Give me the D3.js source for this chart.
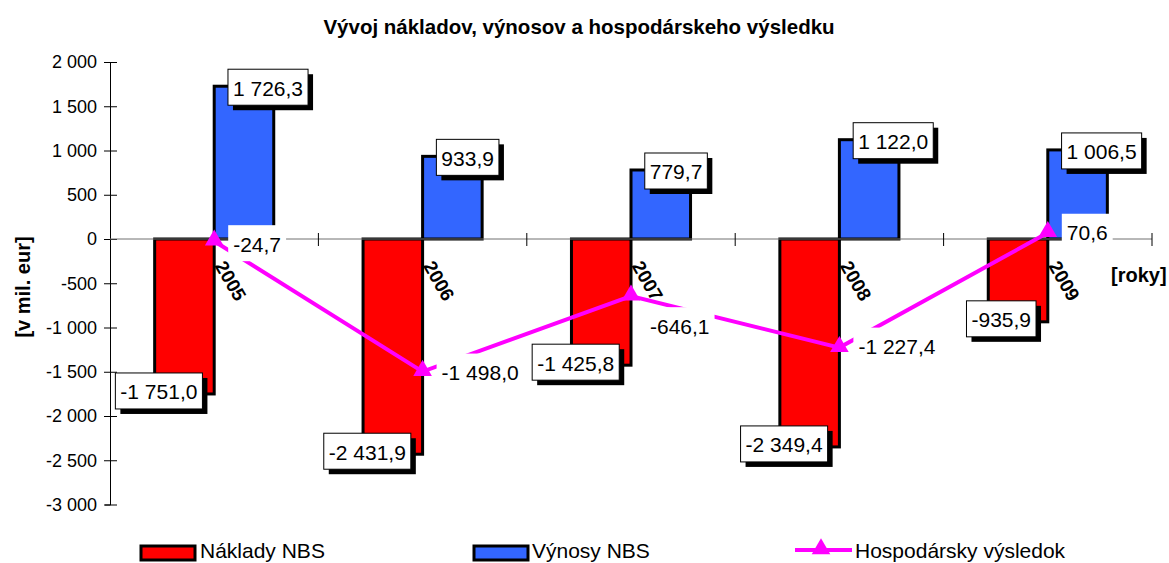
<!DOCTYPE html>
<html>
<head>
<meta charset="utf-8">
<script src="https://cdn.jsdelivr.net/npm/d3@7"></script>
<style>
  html, body { margin: 0; padding: 0; background: #fff; }
  svg { display: block; font-family: Arial, "Liberation Sans", sans-serif; }
</style>
</head>
<body>
<div id="app"></div>
<script>
// data
const years = ["2005", "2006", "2007", "2008", "2009"];
const naklady = [-1751.0, -2431.9, -1425.8, -2349.4, -935.9];
const vynosy = [1726.3, 933.9, 779.7, 1122.0, 1006.5];
const vysledok = [-24.7, -1498.0, -646.1, -1227.4, 70.6];
const yTicks = [2000, 1500, 1000, 500, 0, -500, -1000, -1500, -2000, -2500, -3000];

const seriesNames = ["Náklady NBS", "Výnosy NBS", "Hospodársky výsledok"];
const colors = { naklady: "#ff0000", vynosy: "#3366ff", vysledok: "#ff00ff" };

// manual nudges of the result labels (dy in px), one per year
const resultLabelDy = [2, 0, 29, -2, -1];

const W = 1169, H = 563;
const fmt = d3.formatLocale({ decimal: ",", thousands: " ", grouping: [3], minus: "-" });
const fmtVal = fmt.format(",.1f");
const fmtTick = fmt.format(",d");

const svg = d3.select("#app").append("svg")
  .attr("width", W)
  .attr("height", H);

const x0 = d3.scaleBand().domain(years).range([110, 1152]).padding(0);
const x1 = d3.scaleBand().domain(["naklady", "vynosy"])
  .range([0, x0.bandwidth()]).paddingInner(0).paddingOuter(0.75);
const y = d3.scaleLinear().domain([-3000, 2000]).range([504.5, 62]);

// title
svg.append("text")
  .attr("x", 579).attr("y", 34)
  .attr("text-anchor", "middle")
  .attr("font-size", 20.5).attr("font-weight", "bold")
  .text("Vývoj nákladov, výnosov a hospodárskeho výsledku");

// y axis
const yAxis = d3.axisLeft(y).tickValues(yTicks).tickFormat(fmtTick).tickSize(5).tickPadding(8);
const gy = svg.append("g").attr("transform", "translate(110,0)").call(yAxis);
gy.select(".domain").attr("stroke", "#000");
gy.selectAll(".tick line").attr("x2", 7).attr("x1", -6).attr("stroke", "#000");
gy.selectAll(".tick text").attr("font-size", 18).attr("font-family", "Arial, 'Liberation Sans', sans-serif").attr("fill", "#000");

svg.append("text")
  .attr("transform", "translate(30,287) rotate(-90)")
  .attr("text-anchor", "middle")
  .attr("font-size", 20).attr("font-weight", "bold")
  .text("[v mil. eur]");

// bars
const bars = svg.append("g");
years.forEach((yr, i) => {
  [["naklady", naklady[i]], ["vynosy", vynosy[i]]].forEach(([k, v]) => {
    bars.append("rect")
      .attr("x", x0(yr) + x1(k))
      .attr("y", Math.min(y(v), y(0)))
      .attr("width", x1.bandwidth())
      .attr("height", Math.abs(y(v) - y(0)))
      .attr("fill", colors[k])
      .attr("stroke", "#000")
      .attr("stroke-width", 3);
  });
});

// x axis (category boundaries)
const gx = svg.append("g");
gx.append("line")
  .attr("x1", 110).attr("x2", 1152)
  .attr("y1", y(0)).attr("y2", y(0))
  .attr("stroke", "#707070");
d3.range(1, years.length + 1).forEach(j => {
  const xx = j < years.length ? x0(years[j]) : x0.range()[1];
  gx.append("line")
    .attr("x1", xx).attr("x2", xx)
    .attr("y1", y(0) - 6).attr("y2", y(0) + 7)
    .attr("stroke", "#000");
});

// year labels, rotated
years.forEach(yr => {
  const cx = x0(yr) + x0.bandwidth() / 2;
  svg.append("text")
    .attr("transform", `translate(${cx + 12},${y(0) + 20}) rotate(60)`)
    .attr("font-size", 19).attr("font-weight", "bold")
    .attr("dy", "0.72em")
    .text(yr);
});

svg.append("text")
  .attr("x", 1111).attr("y", 282)
  .attr("font-size", 20).attr("font-weight", "bold")
  .text("[roky]");

// result line
const cxOf = yr => x0(yr) + x0.bandwidth() / 2;
const line = d3.line().x((d, i) => cxOf(years[i])).y(d => y(d));
svg.append("path")
  .datum(vysledok)
  .attr("d", line)
  .attr("fill", "none")
  .attr("stroke", colors.vysledok)
  .attr("stroke-width", 4);

const tri = d3.symbol().type(d3.symbolTriangle).size(150);
vysledok.forEach((v, i) => {
  svg.append("path")
    .attr("d", tri())
    .attr("transform", `translate(${cxOf(years[i])},${y(v) - 1})`)
    .attr("fill", colors.vysledok);
});

// labels
function boxLabel(g, text, opts) {
  const t = g.append("text")
    .attr("font-size", 21)
    .attr("dominant-baseline", "central")
    .text(text);
  const w = t.node().getComputedTextLength();
  const bw = w + 10, bh = 36;
  const left = opts.anchor === "end" ? opts.x - bw : opts.x;
  const top = opts.y - bh / 2;
  if (opts.framed) {
    g.insert("rect", "text")
      .attr("x", left + 5).attr("y", top + 5)
      .attr("width", bw).attr("height", bh)
      .attr("fill", "#000");
  }
  g.insert("rect", "text")
    .attr("x", left).attr("y", top)
    .attr("width", bw).attr("height", bh)
    .attr("fill", "#fff")
    .attr("stroke", opts.framed ? "#000" : "none")
    .attr("stroke-width", 1);
  t.attr("x", left + 5).attr("y", opts.y + 1);
}

const lab = svg.append("g");
vysledok.forEach((v, i) => {
  boxLabel(lab.append("g"), fmtVal(v), {
    x: cxOf(years[i]) + 14, y: y(v) + resultLabelDy[i], anchor: "start", framed: false
  });
});
years.forEach((yr, i) => {
  const bx = x0(yr) + x1("vynosy") + x1.bandwidth() / 2;
  boxLabel(lab.append("g"), fmtVal(vynosy[i]), {
    x: bx - 16, y: y(vynosy[i]) + 1, anchor: "start", framed: true
  });
  const rx = x0(yr) + x1("naklady") + x1.bandwidth() / 2;
  boxLabel(lab.append("g"), fmtVal(naklady[i]), {
    x: rx + 18, y: y(naklady[i]) - 3, anchor: "end", framed: true
  });
});

// legend
const leg = svg.append("g");
leg.append("rect").attr("x", 141).attr("y", 546).attr("width", 54).attr("height", 14)
  .attr("fill", colors.naklady).attr("stroke", "#000").attr("stroke-width", 3);
leg.append("text").attr("x", 200).attr("y", 558).attr("font-size", 21).text(seriesNames[0]);
leg.append("rect").attr("x", 474).attr("y", 546).attr("width", 54).attr("height", 14)
  .attr("fill", colors.vynosy).attr("stroke", "#000").attr("stroke-width", 3);
leg.append("text").attr("x", 532).attr("y", 558).attr("font-size", 21).text(seriesNames[1]);
leg.append("line").attr("x1", 795).attr("x2", 852).attr("y1", 550).attr("y2", 550)
  .attr("stroke", colors.vysledok).attr("stroke-width", 4);
leg.append("path").attr("d", tri()).attr("transform", "translate(821,549)")
  .attr("fill", colors.vysledok);
leg.append("text").attr("x", 855).attr("y", 558).attr("font-size", 21).text(seriesNames[2]);
</script>
</body>
</html>
